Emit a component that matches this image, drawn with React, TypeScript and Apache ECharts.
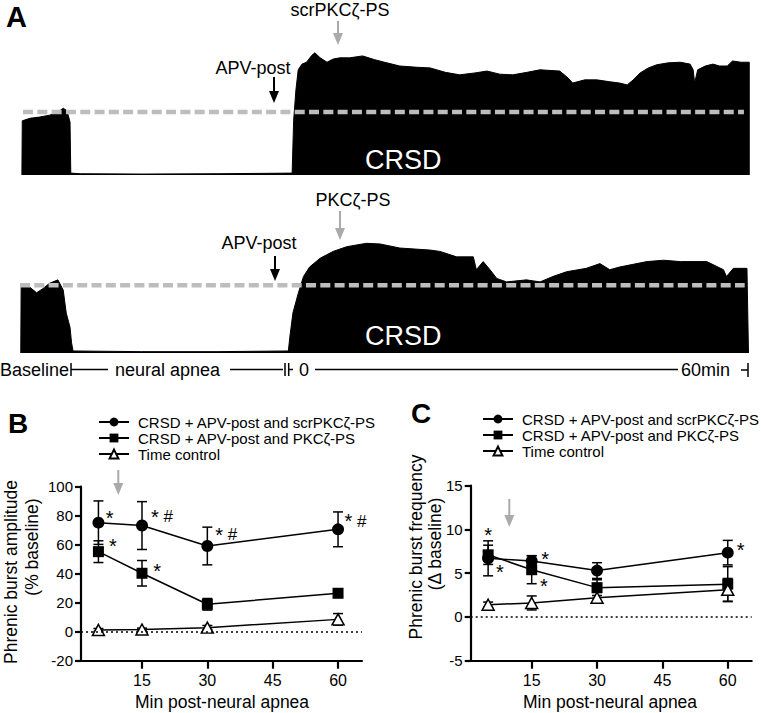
import React, { useEffect, useRef } from "react";
import * as echarts from "echarts";

const FONT = "'Liberation Sans', Arial, Helvetica, sans-serif";

// ---- Panel A traces (time in min relative to end of apnea, amplitude in % baseline) ----
const traceTopT = [-35.75, -35.7, -34.7, -33.4, -32.1, -31.0, -30.3, -29.8, -29.4, -29.3, -28, -20, -10, -0.1, 0.1, 0.4, 0.7, 1.2, 1.8, 2.5, 2.9, 3.6, 4.5, 5.3, 6.2, 7.5, 9.2, 10.8, 12.4, 14.1, 16.4, 18.1, 20.1, 22.0, 24.0, 25.6, 27.3, 29.0, 30.9, 32.6, 35.2, 36.3, 36.9, 38.5, 40.1, 41.8, 43.1, 44.1, 44.9, 45.8, 46.9, 48.0, 49.5, 51.1, 52.4, 52.8, 53.0, 53.4, 54.4, 55.4, 56.3, 57.3, 58.0, 59.1, 60.2, 60.2];
const traceTopAmp = [0, 86, 90, 92, 95, 100, 106, 102, 84, 3, 2, 1.5, 2, 3, 87, 135, 167, 176, 179, 190, 194, 186, 179, 184, 186, 186, 189, 183, 178, 173, 171, 170, 163, 159, 162, 165, 160, 159, 163, 167, 165, 154, 146, 151, 151, 148, 146, 143, 151, 162, 170, 175, 178, 179, 176, 167, 146, 167, 173, 176, 173, 173, 181, 179, 179, 0];
const traceBotT = [-35.9, -35.85, -34.7, -33.8, -33.0, -32.1, -31.0, -30.3, -29.9, -29.4, -29.2, -29.0, -20, -10, -0.6, -0.4, 0.0, 0.7, 1.4, 2.2, 3.6, 5.3, 7.1, 9.7, 11.5, 14.1, 18.1, 19.4, 21.6, 23.8, 24.2, 25.1, 26.0, 26.9, 28.2, 30.8, 32.6, 34.3, 36.1, 38.7, 40.5, 41.8, 43.1, 46.7, 48.9, 51.1, 54.6, 56.8, 57.2, 58.1, 59.9, 60.1];
const traceBotAmp = [0, 99, 97, 89, 95, 103, 108, 93, 59, 38, 15, 3, 2, 2, 3, 24, 59, 88, 113, 127, 140, 150, 157, 162, 161, 155, 152, 150, 142, 142, 123, 135, 123, 110, 105, 108, 105, 113, 120, 125, 132, 123, 127, 135, 137, 135, 135, 123, 113, 125, 125, 0];
const baselineTopT = [-35.6, 59.5];
const baselineBotT = [-36, 59.6];
const baselineLevel = 100;

// ---- Panels B and C ----
const minutes = [5, 15, 30, 60];
const xTicks = [15, 30, 45, 60];
const seriesNames = [
  "CRSD + APV-post and scrPKCζ-PS",
  "CRSD + APV-post and PKCζ-PS",
  "Time control",
];
const ampScr = [75.2, 73.2, 59.1, 70.6];
const ampScrErr = [15, 16.5, 13, 12];
const ampPs = [55.2, 40.3, 18.9, 26.5];
const ampPsErr = [7.5, 8.8, 4, 2.5];
const ampTc = [1.2, 1.5, 2.8, 8.5];
const ampTcErr = [1, 1, 1.5, 4];

const freqScr = [6.7, 6.4, 5.3, 7.35];
const freqScrErr = [2.0, 0.6, 0.9, 1.4];
const freqPs = [7.1, 5.4, 3.35, 3.75];
const freqPsErr = [1.1, 1.6, 0.9, 2.0];
const freqTc = [1.4, 1.6, 2.2, 3.1];
const freqTcErr = [0.3, 0.8, 0.6, 1.3];

// annotations: [x, y, text]
const ampNotes: [number, number, string][] = [
  [6.7, 78.5, "*"],
  [7.45, 58.8, "*"],
  [17.1, 79.1, "* #"],
  [17.6, 41.6, "*"],
  [31.85, 66.7, "* #"],
  [61.5, 76.3, "* #"],
];
const freqNotes: [number, number, string][] = [
  [4.15, 9.33, "*"],
  [6.83, 5.08, "*"],
  [17.2, 6.6, "*"],
  [16.9, 3.57, "*"],
  [62.1, 7.65, "*"],
];

function pairs(xs: number[], ys: number[]) {
  return xs.map((x, i) => [x, ys[i]]);
}

function errSeries(gi: number, ys: number[], es: number[]) {
  return {
    type: "custom",
    xAxisIndex: gi,
    yAxisIndex: gi,
    silent: true,
    z: 1,
    clip: false,
    data: minutes.map((x, i) => [x, ys[i] - es[i], ys[i] + es[i]]),
    renderItem: (_p: any, api: any) => {
      const x = api.value(0);
      const lo = api.coord([x, api.value(1)]);
      const hi = api.coord([x, api.value(2)]);
      const w = 5;
      const style = { stroke: "#000", lineWidth: 1.5 };
      return {
        type: "group",
        children: [
          { type: "line", shape: { x1: lo[0], y1: lo[1], x2: hi[0], y2: hi[1] }, style },
          { type: "line", shape: { x1: lo[0] - w, y1: lo[1], x2: lo[0] + w, y2: lo[1] }, style },
          { type: "line", shape: { x1: hi[0] - w, y1: hi[1], x2: hi[0] + w, y2: hi[1] }, style },
        ],
      };
    },
  };
}

function dataSeries(gi: number, name: string, ys: number[], symbol: string, hollow: boolean, zeroLine: boolean) {
  const s: any = {
    type: "line",
    name,
    xAxisIndex: gi,
    yAxisIndex: gi,
    data: pairs(minutes, ys),
    symbol,
    symbolSize: symbol === "triangle" ? [12, 11] : symbol === "rect" ? 11 : 12,
    showAllSymbol: true,
    z: 3,
    lineStyle: { color: "#000", width: 1.5 },
    itemStyle: hollow
      ? { color: "#fff", borderColor: "#000", borderWidth: 1.5 }
      : { color: "#000", borderColor: "#000", borderWidth: 0 },
    emphasis: { disabled: true },
  };
  if (zeroLine) {
    s.markLine = {
      silent: true,
      symbol: "none",
      label: { show: false },
      lineStyle: { type: [2, 3], color: "#000", width: 1.5 },
      data: [{ yAxis: 0 }],
    };
  }
  return s;
}

function noteSeries(gi: number, notes: [number, number, string][]) {
  return {
    type: "scatter",
    xAxisIndex: gi,
    yAxisIndex: gi,
    silent: true,
    symbolSize: 0.1,
    itemStyle: { color: "#000", opacity: 1 },
    z: 4,
    data: notes.map((n) => [n[0], n[1], n[2]]),
    label: {
      show: true,
      position: [0, 0],
      align: "left",
      verticalAlign: "middle",
      color: "#000",
      opacity: 1,
      textBorderWidth: 0,
      fontFamily: FONT,
      formatter: (p: any) =>
        String(p.data[2])
          .split("")
          .map((c: string) => (c === "*" ? "{s|*}" : c === "#" ? "{h|#}" : "{h| }"))
          .join(""),
      rich: {
        s: { fontSize: 20, color: "#000", fontFamily: FONT, textBorderWidth: 0 },
        h: { fontSize: 17, color: "#000", fontFamily: FONT, textBorderWidth: 0 },
      },
    },
  };
}

function traceSeries(gi: number, ts: number[], amps: number[], bt: number[]) {
  return [
    {
      type: "line",
      xAxisIndex: gi,
      yAxisIndex: gi,
      data: pairs(ts, amps),
      symbol: "none",
      lineStyle: { color: "#000", width: 1 },
      areaStyle: { color: "#000", opacity: 1 },
      z: 2,
      silent: true,
    },
    {
      type: "line",
      xAxisIndex: gi,
      yAxisIndex: gi,
      data: bt.map((t) => [t, baselineLevel]),
      symbol: "none",
      lineStyle: { color: "#bdbdbd", width: 4.5, type: [10, 4.3] },
      z: 3,
      silent: true,
    },
  ];
}

const axisCommonX = (gi: number) => ({
  type: "value",
  gridIndex: gi,
  min: 1,
  max: 65.5,
  axisLine: { show: true, onZero: false, lineStyle: { color: "#000", width: 2.2 } },
  axisTick: { show: true, length: 8, lineStyle: { color: "#000", width: 2.2 }, customValues: xTicks },
  axisLabel: { show: true, customValues: xTicks, color: "#000", fontSize: 16, fontFamily: FONT, margin: 12 },
  splitLine: { show: false },
});

const axisCommonY = (gi: number, min: number, max: number, interval: number) => ({
  type: "value",
  gridIndex: gi,
  min,
  max,
  interval,
  axisLine: { show: true, onZero: false, lineStyle: { color: "#000", width: 2.2 } },
  axisTick: { show: true, length: 6, lineStyle: { color: "#000", width: 2.2 } },
  axisLabel: { color: "#000", fontSize: 15, fontFamily: FONT, margin: 8 },
  splitLine: { show: false },
});

function txt(text: string, x: number, y: number, size: number, opts: any = {}) {
  return {
    type: "text",
    x,
    y,
    z: 100,
    rotation: opts.rotation || 0,
    style: {
      text,
      fill: opts.fill || "#000",
      fontSize: size,
      fontFamily: FONT,
      fontWeight: opts.bold ? "bold" : "normal",
      textAlign: opts.align || "left",
      align: opts.align || "left",
      textVerticalAlign: "middle",
      verticalAlign: "middle",
    },
  };
}

function ln(x1: number, y1: number, x2: number, y2: number, w = 1.5, color = "#000") {
  return { type: "line", z: 100, shape: { x1, y1, x2, y2 }, style: { stroke: color, lineWidth: w } };
}

function arrow(x: number, y1: number, y2: number, color: string) {
  return [
    ln(x, y1, x, y2 - 10, 2, color),
    {
      type: "polygon",
      z: 100,
      shape: { points: [[x - 5, y2 - 12], [x + 5, y2 - 12], [x, y2]] },
      style: { fill: color },
    },
  ];
}

export default function App() {
  const ref = useRef<HTMLDivElement>(null);
  useEffect(() => {
    const chart = echarts.init(ref.current!, undefined, { renderer: "svg" });
    const gray = "#aaaaaa";
    const legendCommon = {
      orient: "vertical",
      itemWidth: 30,
      itemHeight: 11,
      itemGap: -2,
      selectedMode: false,
      data: seriesNames,
      textStyle: { color: "#000", fontSize: 15, fontFamily: FONT, lineHeight: 18, padding: [0, 0, 0, 4] },
    };
    const option: any = {
      animation: false,
      grid: [
        { left: 20, width: 730, top: 42.7, height: 132.3 },
        { left: 20, width: 730, top: 210.8, height: 142.2 },
        { left: 81, width: 281, top: 486.7, height: 174 },
        { left: 470.7, width: 281, top: 485.7, height: 175 },
      ],
      xAxis: [
        { type: "value", gridIndex: 0, min: -36, max: 60.3, show: false },
        { type: "value", gridIndex: 1, min: -36, max: 60.3, show: false },
        axisCommonX(2),
        axisCommonX(3),
      ],
      yAxis: [
        { type: "value", gridIndex: 0, min: 0, max: 210, show: false },
        { type: "value", gridIndex: 1, min: 0, max: 210, show: false },
        axisCommonY(2, -20, 100, 20),
        axisCommonY(3, -5, 15, 5),
      ],
      legend: [
        { ...legendCommon, left: 93, top: 408 },
        { ...legendCommon, left: 477, top: 405 },
      ],
      series: [
        ...traceSeries(0, traceTopT, traceTopAmp, baselineTopT),
        ...traceSeries(1, traceBotT, traceBotAmp, baselineBotT),
        errSeries(2, ampScr, ampScrErr),
        errSeries(2, ampPs, ampPsErr),
        errSeries(2, ampTc, ampTcErr),
        dataSeries(2, seriesNames[0], ampScr, "circle", false, false),
        dataSeries(2, seriesNames[1], ampPs, "rect", false, false),
        dataSeries(2, seriesNames[2], ampTc, "triangle", true, true),
        noteSeries(2, ampNotes),
        errSeries(3, freqScr, freqScrErr),
        errSeries(3, freqPs, freqPsErr),
        errSeries(3, freqTc, freqTcErr),
        dataSeries(3, seriesNames[0], freqScr, "circle", false, false),
        dataSeries(3, seriesNames[1], freqPs, "rect", false, false),
        dataSeries(3, seriesNames[2], freqTc, "triangle", true, true),
        noteSeries(3, freqNotes),
      ],
      graphic: [
        txt("A", 6, 17, 29, { bold: true }),
        txt("B", 8, 423, 28, { bold: true }),
        txt("C", 411, 413, 28, { bold: true }),
        txt("scrPKCζ-PS", 340, 10, 18, { align: "center" }),
        ...arrow(338, 21, 45, gray),
        txt("APV-post", 253, 68, 18, { align: "center" }),
        ...arrow(274, 77, 103, "#000"),
        txt("CRSD", 365, 160, 27, { fill: "#fff" }),
        txt("PKCζ-PS", 353, 200, 18, { align: "center" }),
        ...arrow(340, 211, 240, gray),
        txt("APV-post", 259, 243, 18, { align: "center" }),
        ...arrow(275, 256, 281, "#000"),
        txt("CRSD", 365, 336, 27, { fill: "#fff" }),
        // timeline
        txt("Baseline", 0, 369.5, 18),
        ln(71, 363, 71, 376),
        ln(71, 369.5, 108, 369.5),
        txt("neural apnea", 115, 369.5, 18),
        ln(230, 369.5, 283, 369.5),
        ln(285, 363, 285, 376),
        ln(288.7, 363, 288.7, 376),
        ln(288.7, 369.5, 293, 369.5),
        txt("0", 299, 369.5, 18),
        ln(315, 369.5, 678, 369.5),
        txt("60min", 681, 369.5, 18),
        ln(741, 370, 748, 370),
        ln(748, 363, 748, 377),
        // panel B/C arrows and axis titles
        ...arrow(118.3, 470, 495, gray),
        ...arrow(509.3, 499, 527, gray),
        txt("Phrenic burst amplitude", 11, 572, 17.5, { align: "center", rotation: Math.PI / 2 }),
        txt("(% baseline)", 32, 547, 17.5, { align: "center", rotation: Math.PI / 2 }),
        txt("Min post-neural apnea", 222, 702, 17.5, { align: "center" }),
        txt("Phrenic burst frequency", 415.7, 547, 17.5, { align: "center", rotation: Math.PI / 2 }),
        txt("(Δ baseline)", 435, 544, 17.5, { align: "center", rotation: Math.PI / 2 }),
        txt("Min post-neural apnea", 610, 702, 17.5, { align: "center" }),
      ],
    };
    chart.setOption(option);
    return () => chart.dispose();
  }, []);
  return (
    <div
      ref={ref}
      style={{ position: "absolute", left: 0, top: 0, width: 761, height: 713, background: "#fff" }}
    />
  );
}
